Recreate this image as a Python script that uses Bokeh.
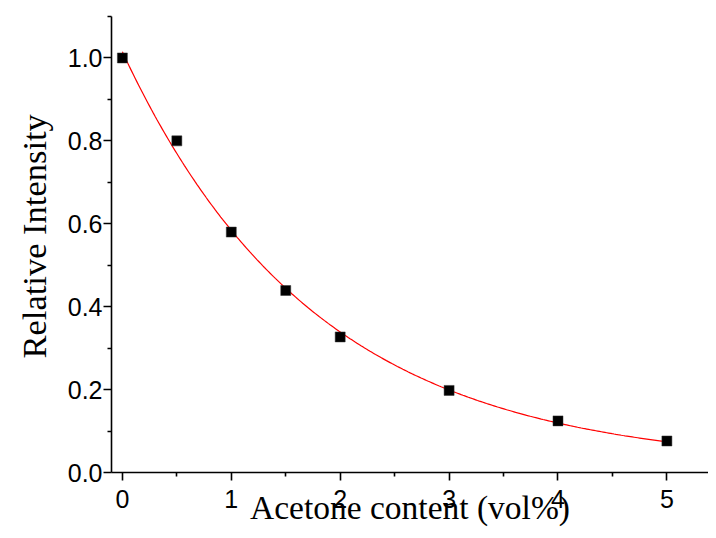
import numpy as np
from bokeh.plotting import figure
from bokeh.models import FixedTicker, PrintfTickFormatter, Title, Range1d
from bokeh.embed import file_html
from bokeh.resources import INLINE

# data
acetone = [0, 0.5, 1, 1.5, 2, 3, 4, 5]
intensity = [1.0, 0.80, 0.58, 0.439, 0.327, 0.198, 0.1245, 0.076]
x_ticks = [0, 1, 2, 3, 4, 5]
x_minor = [0.5, 1.5, 2.5, 3.5, 4.5]
y_ticks = [0.0, 0.2, 0.4, 0.6, 0.8, 1.0]
y_minor = [0.1, 0.3, 0.5, 0.7, 0.9, 1.1]
x_title = "Acetone content (vol%)"
y_title = "Relative Intensity"

# exponential decay fit  y = y0 + A*exp(-x/t), least squares over t
xa = np.array(acetone, dtype=float)
ya = np.array(intensity, dtype=float)
best = None
for t in np.linspace(0.5, 5.0, 2000):
    M = np.column_stack([np.ones_like(xa), np.exp(-xa / t)])
    coef, *_ = np.linalg.lstsq(M, ya, rcond=None)
    err = np.sum((M @ coef - ya) ** 2)
    if best is None or err < best[0]:
        best = (err, t, coef)
_, t_fit, (y0_fit, a_fit) = best
x_fit = np.linspace(min(acetone), max(acetone), 300)
y_fit = y0_fit + a_fit * np.exp(-x_fit / t_fit)

p = figure(width=708, height=530, output_backend="svg", toolbar_location=None,
           x_range=Range1d(-0.1, 5.382), y_range=Range1d(0.0, 1.1),
           min_border_left=109, min_border_right=0, min_border_top=16,
           min_border_bottom=58)
p.outline_line_color = None
p.xgrid.visible = False
p.ygrid.visible = False
p.background_fill_color = "white"
p.border_fill_color = "white"

p.line(x_fit, y_fit, line_color="#ff0000", line_width=1.2)
p.scatter(acetone, intensity, marker="square", size=10, fill_color="black",
          line_color="#333333", line_width=0.5)

for ax in (p.xaxis[0], p.yaxis[0]):
    ax.axis_line_width = 1.6
    ax.axis_line_color = "black"
    ax.major_tick_line_width = 1.6
    ax.minor_tick_line_width = 1.6
    ax.major_tick_line_color = "black"
    ax.minor_tick_line_color = "black"
    ax.major_tick_in = 0
    ax.major_tick_out = 8
    ax.minor_tick_in = 0
    ax.minor_tick_out = 4
    ax.major_label_text_font = "Liberation Sans"
    ax.major_label_text_font_size = "25px"
    ax.major_label_text_color = "black"

p.xaxis[0].ticker = FixedTicker(ticks=x_ticks, minor_ticks=x_minor)
p.yaxis[0].ticker = FixedTicker(ticks=y_ticks, minor_ticks=y_minor)
p.xaxis[0].formatter = PrintfTickFormatter(format="%d")
p.yaxis[0].formatter = PrintfTickFormatter(format="%.1f")
p.xaxis[0].major_label_standoff = 9
p.yaxis[0].major_label_standoff = 1

xa_ax = p.xaxis[0]
xa_ax.axis_label = x_title
xa_ax.axis_label_standoff = -22
xa_ax.axis_label_text_font = "Liberation Serif"
xa_ax.axis_label_text_font_size = "33.5px"
xa_ax.axis_label_text_font_style = "normal"
xa_ax.axis_label_text_color = "black"

p.add_layout(Title(text=y_title, align="left", offset=114, standoff=24,
                   text_font="Liberation Serif", text_font_size="34.5px",
                   text_font_style="normal", text_color="black"), "left")

open("out.html", "w").write(file_html(p, INLINE))
